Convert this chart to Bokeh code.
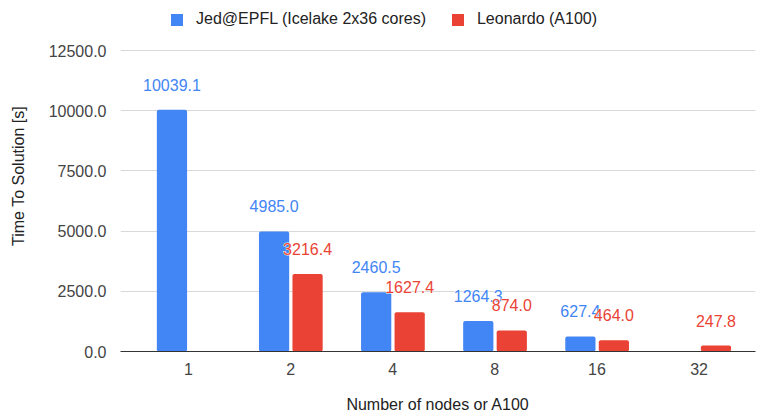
from bokeh.plotting import figure
from bokeh.models import (ColumnDataSource, Range1d, FixedTicker, NumeralTickFormatter,
                          Legend, LegendItem)
from bokeh.core.properties import value
from bokeh.embed import file_html
from bokeh.resources import INLINE

# Scaling benchmark: time to solution per node / GPU count
nodes = ["1", "2", "4", "8", "16", "32"]
jed_times = [10039.1, 4985.0, 2460.5, 1264.3, 627.4, None]
leonardo_times = [None, 3216.4, 1627.4, 874.0, 464.0, 247.8]
y_ticks = [0, 2500, 5000, 7500, 10000, 12500]

series_jed = "Jed@EPFL (Icelake 2x36 cores)"
series_leo = "Leonardo (A100)"

BLUE = "#4285F4"
RED = "#EA4335"
FONT = "Liberation Sans"
FS = "16px"

BAR_W = 0.296
OFF_JED = -0.162
OFF_LEO = 0.166

# The plot frame reaches the top edge so the legend can sit inside it;
# the value axis keeps 301 px per 12500 s.
Y_TOP = 12500 * 351 / 301


def make_source(vals, offset):
    xs, ys, labels = [], [], []
    for i, v in enumerate(vals):
        if v is None:
            continue
        xs.append(i + offset)
        ys.append(v)
        labels.append(f"{v:.1f}")
    return ColumnDataSource(dict(x=xs, y=ys, label=labels))


src_jed = make_source(jed_times, OFF_JED)
src_leo = make_source(leonardo_times, OFF_LEO)

p = figure(width=757, height=415, output_backend="svg", toolbar_location=None,
           x_range=Range1d(-0.666, 5.553), y_range=Range1d(0, Y_TOP),
           min_border_left=120, min_border_right=2, min_border_top=0,
           min_border_bottom=64)
p.outline_line_color = None
p.background_fill_color = "white"
p.border_fill_color = "white"

r_jed = p.vbar(x="x", top="y", width=BAR_W, source=src_jed, fill_color=BLUE,
               line_color=None, border_radius=2)
r_leo = p.vbar(x="x", top="y", width=BAR_W, source=src_leo, fill_color=RED,
               line_color=None, border_radius=2)


def value_labels(src, color):
    common = dict(x="x", y="y", text="label", source=src, text_align="center",
                  text_baseline="middle", y_offset=-25, text_font=value(FONT),
                  text_font_size=FS)
    # white halo underneath, then the coloured text
    p.text(text_color="white", text_outline_color="white", **common)
    p.text(text_color=color, **common)


value_labels(src_jed, BLUE)
value_labels(src_leo, RED)

# grid
p.xgrid.visible = False
p.ygrid.grid_line_color = "#d9d9d9"
p.ygrid.grid_line_width = 1

# y axis
p.yaxis.ticker = FixedTicker(ticks=y_ticks)
p.yaxis.formatter = NumeralTickFormatter(format="0.0")
p.yaxis.axis_line_color = None
p.yaxis.major_tick_line_color = None
p.yaxis.minor_tick_line_color = None
p.yaxis.major_label_standoff = 8
p.yaxis.major_label_text_font = FONT
p.yaxis.major_label_text_font_size = FS
p.yaxis.major_label_text_color = "#444444"
p.yaxis.axis_label = "Time To Solution [s]"
p.yaxis.axis_label_text_font = FONT
p.yaxis.axis_label_text_font_size = FS
p.yaxis.axis_label_text_font_style = "normal"
p.yaxis.axis_label_text_color = "#222222"
p.yaxis.axis_label_standoff = 19

# x axis
p.xaxis.ticker = FixedTicker(ticks=list(range(len(nodes))))
p.xaxis.major_label_overrides = {i: n for i, n in enumerate(nodes)}
p.xaxis.axis_line_color = "#333333"
p.xaxis.axis_line_width = 1
p.xaxis.major_tick_line_color = None
p.xaxis.minor_tick_line_color = None
p.xaxis.major_label_standoff = 5
p.xaxis.major_label_text_font = FONT
p.xaxis.major_label_text_font_size = FS
p.xaxis.major_label_text_color = "#444444"
p.xaxis.axis_label = "Number of nodes or A100"
p.xaxis.axis_label_text_font = FONT
p.xaxis.axis_label_text_font_size = FS
p.xaxis.axis_label_text_font_style = "normal"
p.xaxis.axis_label_text_color = "#222222"
p.xaxis.axis_label_standoff = 18

legend = Legend(items=[LegendItem(label=series_jed, renderers=[r_jed]),
                       LegendItem(label=series_leo, renderers=[r_leo])],
                orientation="horizontal", location=(49, 323),
                glyph_width=15, glyph_height=15, label_standoff=12, spacing=24,
                padding=0, margin=0, border_line_color=None,
                background_fill_alpha=0,
                label_text_font=FONT, label_text_font_size=FS,
                label_text_color="#222222")
p.add_layout(legend, "center")

open("out.html", "w").write(file_html(p, INLINE))
